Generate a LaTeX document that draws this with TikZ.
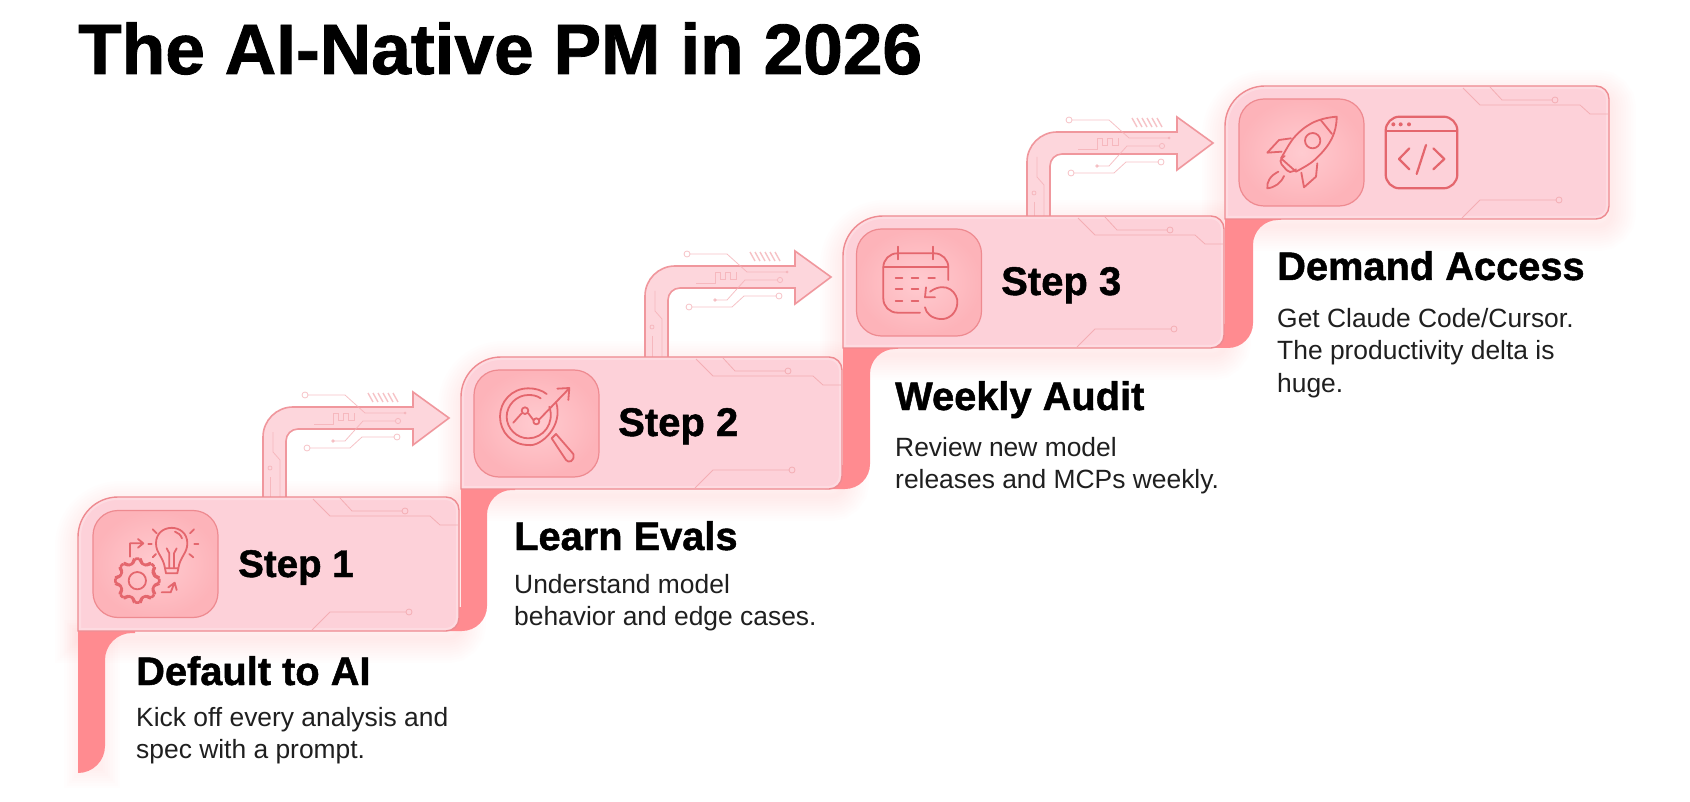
\documentclass[tikz,border=0pt]{standalone}
\usepackage{fontspec}
\setmainfont{Liberation Sans}[BoldFeatures={FakeBold=1.2}]
\definecolor{cardfill}{HTML}{FDD1D9}
\definecolor{cardline}{HTML}{EE8A90}
\definecolor{stemred}{HTML}{FF8B90}
\definecolor{arrowfill}{HTML}{FDD6DC}
\definecolor{arrowline}{HTML}{F0979D}
\definecolor{iconred}{HTML}{E4666D}
\definecolor{traceline}{HTML}{F4AEB4}
\definecolor{iconcenter}{HTML}{FFCBD0}
\definecolor{iconedge}{HTML}{FDB3B9}
\newcommand{\cardshape}[4]{(#1,#4) [rounded corners=40] -- (#1,#2) [rounded corners=13] -- (#3,#2) -- (#3,#4) [sharp corners] -- (#1,#4) -- cycle}
\begin{document}
\begin{tikzpicture}[
    x=1pt, y=-1pt,
    cardbox/.style={draw=cardline, line width=1.4pt},
    iconbox/.style={draw=cardline, line width=1.2pt, rounded corners=25, inner color=iconcenter, outer color=iconedge, minimum width=125pt, minimum height=107pt},
    iconpen/.style={draw=iconred, line width=1.8pt, line cap=round, line join=round},
    tracepen/.style={draw=traceline, line width=.8pt},
    arrowbox/.style={fill=arrowfill, draw=arrowline, line width=1.6pt},
    headtext/.style={font=\fontsize{39.8}{40}\selectfont\bfseries, anchor=base west, inner sep=0pt},
    steptext/.style={font=\fontsize{40}{40}\selectfont\bfseries, anchor=base west, inner sep=0pt},
    bodytext/.style={font=\fontsize{26.4}{32.5}\selectfont, anchor=north west, align=left, inner sep=0pt, text=black!88}
]
\useasboundingbox (0,0) rectangle (1690,802);
\fill[white] (0,0) rectangle (1690,802);

% Soft glow under the cards and the stems
\foreach \cl/\ct/\cr/\cb in {78/497/459/631, 461/357/842/489, 843/216/1224/348, 1225/86/1609/219}
    \foreach \w in {5,10,...,50}
        \draw[stemred, line width=\w, opacity=.011] \cardshape{\cl+2}{\ct+9}{\cr+2}{\cb+7};
\foreach \w in {5,10,...,40}
    \draw[stemred, line width=\w, opacity=.011] (84,640) -- (84,768) -- (100,768) -- (100,640) -- cycle;

% Stems behind the cards
\fill[stemred] (78,620) -- (78,773) [rounded corners=27] -- (105,773) -- (105,633) [sharp corners] -- (135,633) -- (135,620) -- cycle;
\foreach \sl/\sr/\st/\sb in {461/487/490/631, 843/870/349/489, 1225/1253/220/348}
    \fill[stemred] (\sl,\st-10) -- (\sl,\sb-24) -- (\sl-18,\sb-24) -- (\sl-18,\sb) [rounded corners=25] -- (\sr,\sb) -- (\sr,\st) [sharp corners] -- (\sr+28,\st) -- (\sr+28,\st-10) -- cycle;

% Bent arrows from one card to the next, with their circuit lines
\foreach \ax/\ay/\af in {263/407/90, 645/266/91, 1027/132/84}
{
    \begin{scope}[shift={(\ax,\ay)}]
    \draw[arrowbox] (0,\af) [rounded corners=30] -- (0,0) [sharp corners] -- (150,0) -- (150,-15) -- (186,11) -- (150,38) -- (150,22) [rounded corners=12] -- (23,22) [sharp corners] -- (23,\af);
    \begin{scope}[opacity=.75]
    \draw[tracepen] (45,-12) -- (82,-12) -- (102,6) -- (142,6);
    \draw[tracepen] (42,-12) circle (3);
    \fill[traceline] (142,6) circle (1.5);
    \fill[traceline] (70,34) circle (1.8);
    \draw[tracepen] (70,34) -- (82,34) -- (100,14) -- (132,14);
    \draw[tracepen] (135,14) circle (2.6);
    \draw[tracepen] (47,41) -- (87,41) -- (99,30) -- (131,30);
    \draw[tracepen] (44,41) circle (3);
    \draw[tracepen] (134,30) circle (3);
    \draw[tracepen] (51,17) -- (70,17) -- (70,6) -- (75,6) -- (75,13) -- (80,13) -- (80,6) -- (85,6) -- (85,13) -- (91,13) -- (91,6);
    \foreach \h in {0,...,5}
        \draw[traceline, line width=1.4pt] (105+5*\h,-14) -- (110+5*\h,-5);
    \draw[tracepen] (10,25) -- (10,45) -- (17,53) -- (17,\af);
    \draw[tracepen] (7,61) circle (2);
    \draw[tracepen] (7,70) -- (7,\af);
    \end{scope}
    \end{scope}
}

% Cards
\foreach \cl/\ct/\cr/\cb in {78/497/459/631, 461/357/842/489, 843/216/1224/348, 1225/86/1609/219}
{
    \fill[cardfill] \cardshape{\cl}{\ct}{\cr}{\cb};
    \begin{scope}
    \clip \cardshape{\cl}{\ct}{\cr}{\cb};
    \draw[white, line width=6pt, opacity=.22] \cardshape{\cl}{\ct}{\cr}{\cb};
    \end{scope}
    \draw[cardbox] \cardshape{\cl}{\ct}{\cr}{\cb};
    \draw[tracepen] (\cr-119,\ct+1) -- (\cr-107,\ct+14) -- (\cr-57,\ct+14);
    \draw[tracepen] (\cr-54,\ct+14) circle (3);
    \draw[tracepen] (\cr-146,\ct+2) -- (\cr-129,\ct+19) -- (\cr-29,\ct+19) -- (\cr-19,\ct+28) -- (\cr-1,\ct+28);
    \draw[tracepen] (\cr-147,\cb-1) -- (\cr-129,\cb-19) -- (\cr-53,\cb-19);
    \draw[tracepen] (\cr-50,\cb-19) circle (3);
}

% Icon tiles
\node[iconbox] (icon1) at (155.5,564) {};
\node[iconbox] (icon2) at (536.5,423.5) {};
\node[iconbox] (icon3) at (919,282.5) {};
\node[iconbox] (icon4) at (1301.5,152.5) {};

% Bulb and gear
\begin{scope}[shift={(50,360)}, scale=1/3, iconpen]
\draw (345,625) .. controls (340,590) and (318,580) .. (318,550) .. controls (318,488) and (412,488) .. (412,550) .. controls (412,580) and (390,590) .. (385,625) -- cycle;
\draw (345,625) -- (348,640) -- (382,640) -- (385,625);
\draw (358,625) -- (358,580) -- (350,565) (372,625) -- (372,580) -- (380,565);
\draw (375,515) .. controls (385,518) and (392,525) .. (396,535);
\foreach \a/\b/\c/\d in {308/508/320/520, 432/508/420/520, 295/552/305/552, 445/552/433/552, 308/592/318/582, 430/592/418/582}
    \draw (\a,\b) -- (\c,\d);
\begin{scope}[shift={(262,662)}]
\draw[rounded corners=5] (-13:52) \foreach \g in {0,45,...,315} { -- ({\g-13}:52) -- ({\g-9}:68) -- ({\g+9}:68) -- ({\g+13}:52) } -- cycle;
\draw (0,0) circle (26);
\end{scope}
\draw (240,590) -- (240,550) -- (278,550) (264,537) -- (280,550) -- (264,563);
\draw (335,697) -- (362,697) -- (372,672) (355,682) -- (374,668) -- (380,690);
\end{scope}

% Magnifier and chart
\begin{scope}[shift={(440,230)}, scale=1/3, iconpen]
\draw (348,516) .. controls (372,590) and (300,652) .. (265,645) .. controls (215,645) and (180,605) .. (180,560) .. controls (180,515) and (215,475) .. (265,475) .. controls (285,475) and (305,480) .. (320,492);
\draw (328,530) .. controls (345,580) and (310,625) .. (265,625) .. controls (230,625) and (200,595) .. (200,560) .. controls (200,525) and (230,495) .. (265,495) .. controls (280,495) and (290,497) .. (302,505);
\draw (335,625) -- (348,612) -- (400,672) .. controls (405,695) and (385,700) .. (378,690) -- cycle;
\draw (220,578) -- (245,550) (265,550) -- (280,570) (298,568) -- (385,478) (352,476) -- (388,474) -- (385,510);
\draw (255,542) circle (10);
\draw (289,574) circle (9);
\end{scope}

% Calendar with a refresh mark
\begin{scope}[shift={(830,100)}, scale=1/3, iconpen]
\draw[rounded corners=14] (270,638) -- (160,638) -- (160,460) -- (355,460) -- (355,540);
\draw (160,500) -- (355,500);
\draw (205,440) -- (205,478) (308,440) -- (308,478);
\foreach \dx/\dy in {197/535, 245/535, 295/535, 197/568, 245/568, 197/603, 245/603}
    \draw (\dx,\dy) -- (\dx+20,\dy);
\draw (300,575) .. controls (350,540) and (385,580) .. (382,610) .. controls (380,640) and (355,660) .. (330,657) .. controls (305,655) and (288,640) .. (285,622);
\draw (288,562) -- (285,592) -- (315,592);
\end{scope}

% Rocket
\begin{scope}[shift={(1210,70)}, scale=1/3, iconpen]
\draw (380,140) .. controls (320,145) and (285,165) .. (250,205) .. controls (235,225) and (225,245) .. (213,265) -- (258,305) .. controls (285,290) and (305,280) .. (322,262) .. controls (360,225) and (380,190) .. (380,140) -- cycle;
\draw (332,150) -- (366,192);
\draw (308,212) circle (23);
\draw (243,205) -- (207,210) -- (172,248) -- (215,245);
\draw (322,280) -- (318,320) -- (282,352) -- (274,308);
\draw[rounded corners=5] (224,258) -- (205,272) -- (240,312) -- (258,298);
\draw (205,305) .. controls (180,318) and (170,335) .. (172,355) .. controls (195,352) and (212,340) .. (222,318);
\end{scope}

% Code window
\begin{scope}[shift={(1210,70)}, scale=1/3, iconpen]
\draw[rounded corners=14, line width=2.2pt] (527,140) rectangle (742,355);
\draw (527,183) -- (742,183);
\foreach \dx in {550,572,597}
    \fill[iconred] (\dx,163) circle (6);
\draw[line width=2.2pt] (598,235) -- (567,267) -- (598,298);
\draw[line width=2.2pt] (648,225) -- (620,312);
\draw[line width=2.2pt] (670,235) -- (703,267) -- (670,298);
\end{scope}

% Labels
\node[font=\fontsize{71.3}{72}\selectfont\bfseries, anchor=base west, inner sep=0pt] (title) at (78,74) {The AI-Native PM in 2026};
\node[steptext, font=\fontsize{38.5}{40}\selectfont\bfseries] (step1) at (238,577) {Step 1};
\node[steptext] (step2) at (618,436) {Step 2};
\node[steptext] (step3) at (1001,295) {Step 3};
\node[headtext] (head1) at (136,685) {Default to AI};
\node[headtext] (head2) at (514,550) {Learn Evals};
\node[headtext] (head3) at (895,410) {Weekly Audit};
\node[headtext] (head4) at (1277,280) {Demand Access};
\node[bodytext] (body1) at (136,707) {Kick off every analysis and\\spec with a prompt.};
\node[bodytext] (body2) at (514,574) {Understand model\\behavior and edge cases.};
\node[bodytext] (body3) at (895,437) {Review new model\\releases and MCPs weekly.};
\node[bodytext] (body4) at (1277,308) {Get Claude Code/Cursor.\\The productivity delta is\\huge.};

\end{tikzpicture}
\end{document}
